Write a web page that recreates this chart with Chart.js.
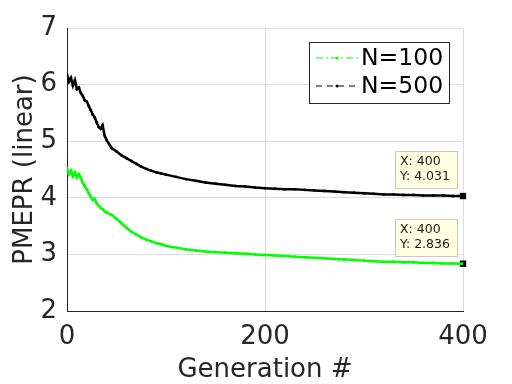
<!DOCTYPE html>
<html>
<head>
<meta charset="utf-8">
<script src="https://cdn.jsdelivr.net/npm/chart.js@4"></script>
<style>
  html, body { margin: 0; padding: 0; background: #fff; }
  canvas { display: block; }
</style>
</head>
<body>
<canvas id="grafico" width="512" height="384"></canvas>
<script>
// generaciones (eje x)
const gens = [0, 2, 4, 6, 8, 10, 12, 14, 16, 18, 20, 22, 24, 26, 28, 30, 32, 34, 36, 38, 40,
  45, 50, 55, 60, 65, 70, 75, 80, 85, 90, 95, 100,
  110, 120, 130, 140, 150, 160, 170, 180, 190, 200, 210, 220, 230, 240, 250,
  260, 270, 280, 290, 300, 310, 320, 330, 340, 350, 360, 370, 380, 390, 400];

// PMEPR para N=100
const n100 = [4.52, 4.42, 4.48, 4.38, 4.45, 4.36, 4.42, 4.35, 4.26, 4.20, 4.15, 4.08, 4.02, 3.96, 3.98, 3.90, 3.86, 3.82, 3.80, 3.76, 3.74,
  3.70, 3.63, 3.55, 3.47, 3.40, 3.35, 3.30, 3.26, 3.23, 3.20, 3.18, 3.15,
  3.12, 3.09, 3.07, 3.05, 3.04, 3.03, 3.02, 3.01, 3.00, 2.99, 2.98, 2.97, 2.96, 2.95, 2.94,
  2.93, 2.92, 2.91, 2.90, 2.89, 2.88, 2.87, 2.87, 2.86, 2.86, 2.85, 2.85, 2.84, 2.84, 2.836];

// PMEPR para N=500
const n500 = [6.18, 6.05, 6.12, 5.98, 6.08, 5.92, 5.95, 5.85, 5.80, 5.72, 5.70, 5.62, 5.55, 5.47, 5.42, 5.33, 5.25, 5.22, 5.28, 5.10, 5.02,
  4.88, 4.82, 4.75, 4.70, 4.65, 4.60, 4.55, 4.51, 4.48, 4.45, 4.43, 4.41,
  4.37, 4.33, 4.30, 4.27, 4.25, 4.23, 4.21, 4.20, 4.18, 4.17, 4.16, 4.15, 4.15, 4.14, 4.13,
  4.12, 4.11, 4.10, 4.09, 4.08, 4.07, 4.06, 4.06, 4.05, 4.05, 4.04, 4.04, 4.04, 4.03, 4.031];

// data tips
const tipX = [400, 400];
const tipY = [4.031, 2.836];

const yTicks = [2, 3, 4, 5, 6, 7];
const xTicks = [0, 200, 400];

const leyenda = [
  { label: 'N=100', color: '#00ff00', dash: [7, 3, 2, 3] },
  { label: 'N=500', color: '#000000', dash: [6, 5] }
];

const FUENTE = 'DejaVu Sans';
const GRIS = '#262626';

function puntos(ys) {
  return gens.map((g, i) => ({ x: g, y: ys[i] }));
}

// leyenda dibujada a mano (estilo MATLAB)
const pluginLeyenda = {
  id: 'leyendaMatlab',
  afterDraw(chart) {
    const ctx = chart.ctx;
    const x0 = 309, y0 = 42, w = 140, h = 61;
    ctx.save();
    ctx.fillStyle = '#fff';
    ctx.fillRect(x0, y0, w, h);
    ctx.strokeStyle = GRIS;
    ctx.lineWidth = 1;
    ctx.strokeRect(x0 + 0.5, y0 + 0.5, w, h);
    leyenda.forEach((item, i) => {
      const yy = y0 + 16 + i * 28;
      ctx.strokeStyle = item.color;
      ctx.setLineDash(item.dash);
      ctx.lineWidth = 1;
      ctx.beginPath();
      ctx.moveTo(x0 + 7, yy);
      ctx.lineTo(x0 + 49, yy);
      ctx.stroke();
      ctx.setLineDash([]);
      ctx.fillStyle = item.color;
      ctx.beginPath();
      ctx.arc(x0 + 28, yy, 1.5, 0, Math.PI * 2);
      ctx.fill();
      ctx.fillStyle = '#000';
      ctx.font = '23.5px "' + FUENTE + '"';
      ctx.textBaseline = 'middle';
      ctx.textAlign = 'left';
      ctx.fillText(item.label, x0 + 52, yy + 1);
    });
    ctx.restore();
  }
};

// cuadritos con X/Y
const pluginTips = {
  id: 'tipsMatlab',
  afterDraw(chart) {
    const ctx = chart.ctx;
    const sx = chart.scales.x, sy = chart.scales.y;
    ctx.save();
    tipX.forEach((tx, i) => {
      const px = sx.getPixelForValue(tx);
      const py = sy.getPixelForValue(tipY[i]);
      const w = 62, h = 37;
      const bx = Math.round(px - 6 - w), by = Math.round(py - 8 - h);
      ctx.fillStyle = '#ffffe1';
      ctx.fillRect(bx, by, w, h);
      ctx.strokeStyle = '#c8c8c8';
      ctx.lineWidth = 1;
      ctx.strokeRect(bx + 0.5, by + 0.5, w, h);
      ctx.fillStyle = '#1a1a1a';
      ctx.font = '12.5px "' + FUENTE + '"';
      ctx.textBaseline = 'middle';
      ctx.textAlign = 'left';
      ctx.fillText('X: ' + tx, bx + 5, by + 11);
      ctx.fillText('Y: ' + tipY[i].toFixed(3), bx + 5, by + 26);
    });
    ctx.restore();
  }
};

new Chart(document.getElementById('grafico'), {
  type: 'line',
  data: {
    datasets: [
      {
        label: 'N=100',
        data: puntos(n100),
        borderColor: '#00ff00',
        backgroundColor: '#00ff00',
        borderWidth: 2.5,
        pointRadius: 1.4,
        pointBorderWidth: 0,
        tension: 0
      },
      {
        label: 'N=500',
        data: puntos(n500),
        borderColor: '#000000',
        backgroundColor: '#000000',
        borderWidth: 2.5,
        pointRadius: 1.4,
        pointBorderWidth: 0,
        tension: 0
      },
      {
        label: 'tips',
        data: tipX.map((x, i) => ({ x: x, y: tipY[i] })),
        showLine: false,
        pointStyle: 'rect',
        pointRadius: 4.5,
        pointBorderWidth: 0,
        backgroundColor: '#000000',
        borderColor: '#000000',
        clip: false
      }
    ]
  },
  options: {
    responsive: false,
    animation: false,
    layout: { padding: { left: 0, top: 28, right: 49, bottom: 0 } },
    plugins: {
      legend: { display: false },
      tooltip: { enabled: false }
    },
    scales: {
      x: {
        type: 'linear',
        min: 0,
        max: 400,
        afterBuildTicks: (s) => { s.ticks = xTicks.map(v => ({ value: v })); },
        afterFit: (s) => { s.height = 73; },
        grid: { color: '#dcdcdc', drawTicks: false },
        border: { color: GRIS, width: 1 },
        ticks: { color: GRIS, font: { family: FUENTE, size: 26 }, padding: 11, maxRotation: 0 },
        title: { display: true, text: 'Generation #', color: GRIS, font: { family: FUENTE, size: 26 }, padding: { top: 0, bottom: -2 } }
      },
      y: {
        type: 'linear',
        min: 2,
        max: 7,
        afterBuildTicks: (s) => { s.ticks = yTicks.map(v => ({ value: v })); },
        afterFit: (s) => { s.width = 67; },
        grid: { color: '#dcdcdc', drawTicks: false },
        border: { color: GRIS, width: 1 },
        ticks: { color: GRIS, font: { family: FUENTE, size: 26 }, padding: 10 },
        title: { display: true, text: 'PMEPR (linear)', color: GRIS, font: { family: FUENTE, size: 26 }, padding: { top: 10, bottom: 0 } }
      }
    }
  },
  plugins: [pluginLeyenda, pluginTips]
});
</script>
</body>
</html>
